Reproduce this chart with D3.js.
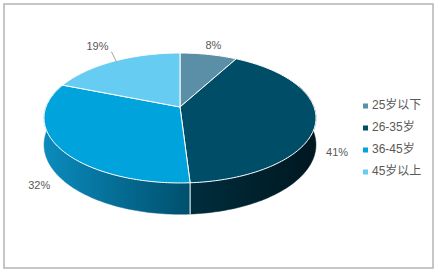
<!DOCTYPE html>
<html lang="zh">
<head>
    <meta charset="UTF-8">
    <title>年龄分布</title>
    <script src="https://cdn.jsdelivr.net/npm/d3@7"></script>
    <style>
        body { margin: 0; background: #fff; }
        svg { display: block; font-family: "Liberation Sans", "Noto Sans CJK SC", sans-serif; }
    </style>
</head>
<body>
<script>
    // data
    var categories = ["25岁以下", "26-35岁", "36-45岁", "45岁以上"];
    var values = [8, 41, 32, 19];
    var labels = ["8%", "41%", "32%", "19%"];
    var colors = ["#5b8fa7", "#004d68", "#00a3db", "#66ccf2"];
    // side wall gradients (left, right)
    var sideColors = [["#3f6d82", "#2d5566"], ["#002d3d", "#00171f"], ["#0a8cbd", "#004f6d"], ["#3aa7cf", "#2a86a8"]];

    var W = 436, H = 272;
    var svg = d3.select("body").append("svg")
        .attr("width", W)
        .attr("height", H);

    // frame
    svg.append("rect")
        .attr("x", 4).attr("y", 4)
        .attr("width", 429).attr("height", 264)
        .attr("fill", "#fff")
        .attr("stroke", "#b4b4b4")
        .attr("stroke-width", 1.5);

    // simple perspective projection of a flat disk
    var cx = 180, cy = 107;   // apex of slices
    var ax = 134, ay = 63.1;  // horizontal / depth scale
    var dist = 5.91;          // camera distance (in radii)
    var depth = 26;           // thickness of the pie

    function proj(theta, k, down) {
        var X = k * Math.sin(theta), Z = k * Math.cos(theta);
        var s = dist / (dist + Z);
        return [cx + ax * X * s, cy - ay * Z * s + (down ? depth * s : 0)];
    }

    var pie = d3.pie().sort(null).value(function (d) { return d; });
    var arcs = pie(values);

    var defs = svg.append("defs");
    sideColors.forEach(function (c, i) {
        var g = defs.append("linearGradient")
            .attr("id", "side" + i)
            .attr("gradientUnits", "userSpaceOnUse")
            .attr("x1", i == 2 ? 43 : 190).attr("x2", i == 2 ? 190 : 318)
            .attr("y1", 0).attr("y2", 0);
        g.append("stop").attr("offset", 0).attr("stop-color", c[0]);
        g.append("stop").attr("offset", 1).attr("stop-color", c[1]);
    });

    function sample(a0, a1) {
        var n = Math.max(2, Math.ceil((a1 - a0) / 0.02));
        return d3.range(n + 1).map(function (j) { return a0 + (a1 - a0) * j / n; });
    }

    // side walls (front half only, top face covers the rest)
    var visLo = 70 * Math.PI / 180, visHi = 290 * Math.PI / 180;
    var sides = svg.append("g");
    arcs.forEach(function (d, i) {
        var a0 = Math.max(d.startAngle, visLo), a1 = Math.min(d.endAngle, visHi);
        if (a1 <= a0) return;
        var ts = sample(a0, a1);
        var pts = ts.map(function (t) { return proj(t, 1, false); })
            .concat(ts.slice().reverse().map(function (t) { return proj(t, 1, true); }));
        sides.append("path")
            .attr("d", "M" + pts.join("L") + "Z")
            .attr("fill", "url(#side" + i + ")")
            .attr("stroke", "url(#side" + i + ")")
            .attr("stroke-width", 0.5);
    });
    // white edges on the front wall at slice boundaries
    arcs.forEach(function (d) {
        var t = d.endAngle;
        if (t > visLo + 0.3 && t < visHi - 0.3) {
            var p = proj(t, 1, false), q = proj(t, 1, true);
            sides.append("line")
                .attr("x1", p[0]).attr("y1", p[1])
                .attr("x2", q[0]).attr("y2", q[1])
                .attr("stroke", "#fff").attr("stroke-width", 1);
        }
    });

    // top face
    var topFace = svg.append("g");
    arcs.forEach(function (d, i) {
        var ts = sample(d.startAngle, d.endAngle);
        var pts = [[cx, cy]].concat(ts.map(function (t) { return proj(t, 1, false); }));
        topFace.append("path")
            .attr("d", "M" + pts.join("L") + "Z")
            .attr("fill", colors[i])
            .attr("stroke", "#fff")
            .attr("stroke-width", 1)
            .attr("stroke-linejoin", "round");
    });

    // data labels
    var lab = svg.append("g")
        .attr("font-size", 11)
        .attr("fill", "#595959");
    arcs.forEach(function (d, i) {
        var mid = (d.startAngle + d.endAngle) / 2;
        var front = Math.cos(mid) < 0;
        var k = i == 3 ? 1.35 : (front ? 1.15 : 1.2);
        var p = proj(mid, k, front);
        if (front) p[1] += 2;
        if (i == 3) {
            p = [p[0] + 3, p[1] - 1];
            var a = proj(mid, 0.97, false);
            lab.append("line")
                .attr("x1", a[0] + 1).attr("y1", a[1])
                .attr("x2", p[0] + 14).attr("y2", p[1] + 5)
                .attr("stroke", "#a6a6a6").attr("stroke-width", 1);
        }
        lab.append("text")
            .attr("x", p[0]).attr("y", p[1])
            .attr("text-anchor", "middle")
            .attr("dominant-baseline", "middle")
            .text(labels[i]);
    });

    // legend
    var legendY = d3.scalePoint().domain(categories).range([106, 172]);
    var legend = svg.append("g");
    categories.forEach(function (c, i) {
        legend.append("rect")
            .attr("x", 363).attr("y", legendY(c) - 2.5)
            .attr("width", 5).attr("height", 5)
            .attr("fill", colors[i]);
        legend.append("text")
            .attr("x", 372).attr("y", legendY(c))
            .attr("dominant-baseline", "middle")
            .attr("font-size", 12)
            .attr("fill", "#595959")
            .text(c);
    });
</script>
</body>
</html>
